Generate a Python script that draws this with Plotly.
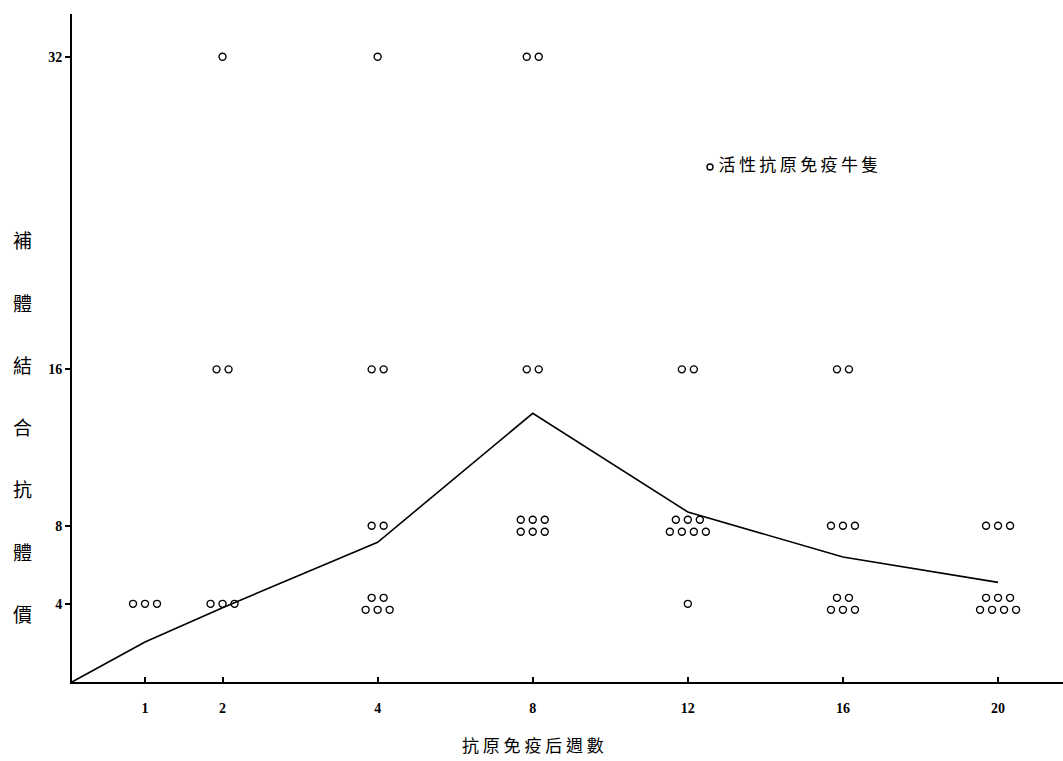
import plotly.graph_objects as go

# ---- data ----
weeks = [1, 2, 4, 8, 12, 16, 20]
week_labels = ["1", "2", "4", "8", "12", "16", "20"]
titer_levels = [32, 16, 8, 4]
count_32 = [0, 1, 1, 2, 0, 0, 0]
count_16 = [0, 2, 2, 2, 2, 2, 0]
count_8 = [0, 0, 2, 6, 7, 3, 3]
count_4 = [3, 3, 5, 0, 1, 5, 7]
mean_titer = [2.05, 3.8, 7.15, 13.75, 8.7, 6.4, 5.1]
y_ticks = [4, 8, 16, 32]
legend_label = "活性抗原免疫牛隻"
y_title = "補體結合抗體價"
x_title = "抗 原 免 疫 后 週 數"

# ---- layout constants ----
W, H = 1063, 761
ML, MR, MT, MB = 72, 0, 14, 79
plot_w = W - ML - MR
plot_h = H - MT - MB

# non-uniform axis: slot positions for each week (printed scale of the original)
slot = {1: 1, 2: 2, 4: 4, 8: 6, 12: 8, 16: 10, 20: 12}
x_slots = [slot[w] for w in weeks]
unit_px = 77.55
x_range = [1 - (145 - ML) / unit_px, 1 - (145 - ML) / unit_px + plot_w / unit_px]
y_px_per_unit = 19.54
y_range = [0, plot_h / y_px_per_unit]

dx = 12 / unit_px
dy = 12 / y_px_per_unit

counts = {32: count_32, 16: count_16, 8: count_8, 4: count_4}

cx, cy = [], []
for i, xs in enumerate(x_slots):
    for lvl in titer_levels:
        n = counts[lvl][i]
        if n == 0:
            continue
        if n <= 3:
            rows = [(n, 0.0)]
        else:
            rows = [(n // 2, dy / 2), (n - n // 2, -dy / 2)]
        for k, off in rows:
            for j in range(k):
                cx.append(xs + (j - (k - 1) / 2) * dx)
                cy.append(lvl + off)


def px_to_paper(xpx, ypx):
    return (xpx - ML) / plot_w, (H - MB - ypx) / plot_h


fig = go.Figure()

fig.add_trace(go.Scatter(
    x=[x_range[0]] + x_slots, y=[0] + mean_titer,
    mode="lines", line=dict(color="black", width=1.6),
    showlegend=False, hoverinfo="skip"))

fig.add_trace(go.Scatter(
    x=cx, y=cy, mode="markers",
    marker=dict(symbol="circle-open", size=7, color="black",
                line=dict(color="black", width=1.4)),
    showlegend=False, name=legend_label))

# legend-like label
leg_x_px, leg_y_px = 710, 167
fig.add_trace(go.Scatter(
    x=[x_range[0] + (leg_x_px - ML) / unit_px],
    y=[(H - MB - leg_y_px) / y_px_per_unit],
    mode="markers+text",
    marker=dict(symbol="circle-open", size=6, color="black",
                line=dict(color="black", width=1.4)),
    text=[" " + "\u2009".join(legend_label)], textposition="middle right",
    textfont=dict(family="Noto Sans CJK TC", size=17, color="black"),
    showlegend=False, hoverinfo="skip"))

annotations = []
for i, ch in enumerate(y_title):
    px, py = px_to_paper(22, 240 + i * 62.2)
    annotations.append(dict(
        x=px, y=py, xref="paper", yref="paper",
        text=ch, showarrow=False, xanchor="center", yanchor="middle",
        font=dict(family="Noto Sans CJK TC", size=19, color="black")))
px, py = px_to_paper(533, 745)
annotations.append(dict(
    x=px, y=py, xref="paper", yref="paper",
    text=x_title, showarrow=False, xanchor="center", yanchor="middle",
    font=dict(family="Noto Sans CJK TC", size=17, color="black")))

tick_font = dict(family="Liberation Serif", size=14, color="black", weight="bold")

fig.update_layout(
    width=W, height=H,
    margin=dict(l=ML, r=MR, t=MT, b=MB, pad=0),
    paper_bgcolor="white", plot_bgcolor="white",
    showlegend=False,
    annotations=annotations,
    xaxis=dict(
        range=x_range, tickmode="array", tickvals=x_slots, ticktext=week_labels,
        showgrid=False, zeroline=False, showline=True, linecolor="black", linewidth=2,
        ticks="inside", ticklen=5, tickwidth=1.5, tickcolor="black",
        tickfont=tick_font, ticklabelstandoff=12),
    yaxis=dict(
        range=y_range, tickmode="array", tickvals=y_ticks,
        ticktext=[str(t) for t in y_ticks],
        showgrid=False, zeroline=False, showline=True, linecolor="black", linewidth=2,
        ticks="outside", ticklen=5, tickwidth=1.5, tickcolor="black",
        tickfont=tick_font),
)

fig.write_html("out.html", config={"displayModeBar": False})
